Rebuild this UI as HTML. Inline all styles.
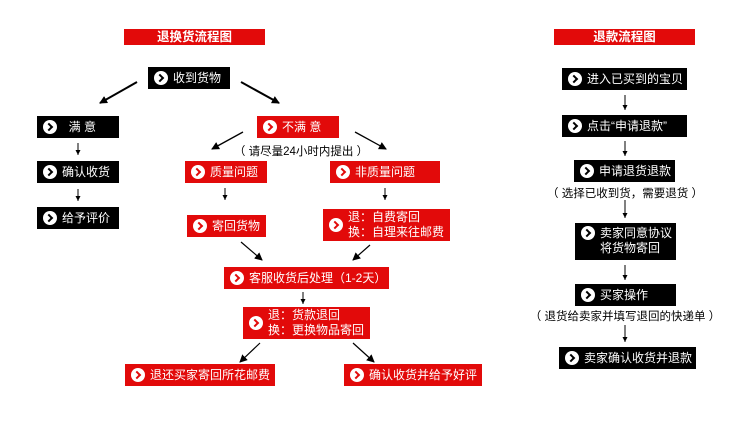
<!DOCTYPE html>
<html><head><meta charset="utf-8">
<style>
body{margin:0;width:750px;height:422px;background:#fff;position:relative;overflow:hidden;font-family:"Liberation Sans","Noto Sans CJK SC",sans-serif;}
.b{position:absolute;box-sizing:border-box;color:#fff;font-size:12px;line-height:15px;display:flex;align-items:center;white-space:nowrap;padding-left:6px;overflow:hidden;}
.k{background:#000;}
.r{background:#e20a0a;}
.i{width:14px;height:14px;border-radius:50%;background:#fff;margin-right:5px;flex:none;position:relative;}
.i:after{content:"";position:absolute;left:3px;top:4px;width:4px;height:4px;border-right:2.5px solid;border-top:2.5px solid;transform:rotate(45deg);}
.k .i:after{border-color:#000}
.r .i:after{border-color:#e20a0a}
.t{position:absolute;background:#e20a0a;color:#fff;font-weight:bold;font-size:12.5px;text-align:center;line-height:16px;height:16px;}
.n{position:absolute;font-size:11.5px;color:#000;white-space:nowrap;transform:translateX(-50%);}
svg{position:absolute;left:0;top:0;}
</style></head><body>
<div class="t" style="left:124px;top:29px;width:141px;">退换货流程图</div>
<div class="t" style="left:554px;top:29px;width:141px;">退款流程图</div>

<div class="b k" style="left:148px;top:67px;width:82px;height:22px;"><span class="i"></span>收到货物</div>
<div class="b k" style="left:37px;top:116px;width:82px;height:22px;"><span class="i"></span>&nbsp;&nbsp;满&nbsp;意</div>
<div class="b r" style="left:257px;top:116px;width:82px;height:22px;"><span class="i"></span>不满&nbsp;意</div>
<div class="n" style="left:301px;top:143px;">（ 请尽量24小时内提出 ）</div>
<div class="b k" style="left:37px;top:161px;width:82px;height:22px;"><span class="i"></span>确认收货</div>
<div class="b r" style="left:185px;top:161px;width:82px;height:22px;"><span class="i"></span>质量问题</div>
<div class="b r" style="left:330px;top:161px;width:110px;height:22px;"><span class="i"></span>非质量问题</div>
<div class="b k" style="left:37px;top:207px;width:82px;height:22px;"><span class="i"></span>给予评价</div>
<div class="b r" style="left:187px;top:215px;width:79px;height:22px;"><span class="i"></span>寄回货物</div>
<div class="b r" style="left:323px;top:209px;width:127px;height:32px;"><span class="i"></span><span>退：自费寄回<br>换：自理来往邮费</span></div>
<div class="b r" style="left:224px;top:267px;width:165px;height:22px;"><span class="i"></span>客服收货后处理（1-2天）</div>
<div class="b r" style="left:243px;top:307px;width:127px;height:32px;"><span class="i"></span><span>退：货款退回<br>换：更换物品寄回</span></div>
<div class="b r" style="left:125px;top:364px;width:150px;height:22px;"><span class="i"></span>退还买家寄回所花邮费</div>
<div class="b r" style="left:344px;top:364px;width:138px;height:22px;"><span class="i"></span>确认收货并给予好评</div>

<div class="b k" style="left:562px;top:68px;width:125px;height:22px;"><span class="i"></span>进入已买到的宝贝</div>
<div class="b k" style="left:562px;top:115px;width:125px;height:22px;"><span class="i"></span>点击“申请退款”</div>
<div class="b k" style="left:574px;top:160px;width:101px;height:22px;"><span class="i"></span>申请退货退款</div>
<div class="n" style="left:625px;top:185px;">（ 选择已收到货，需要退货 ）</div>
<div class="b k" style="left:575px;top:223px;width:101px;height:37px;align-items:flex-start;padding-top:3px;"><span class="i"></span><span>卖家同意协议<br>将货物寄回</span></div>
<div class="b k" style="left:575px;top:284px;width:101px;height:22px;"><span class="i"></span>买家操作</div>
<div class="n" style="left:625px;top:308px;">（ 退货给卖家并填写退回的快递单 ）</div>
<div class="b k" style="left:559px;top:347px;width:137px;height:22px;"><span class="i"></span>卖家确认收货并退款</div>

<svg width="750" height="422">
<defs><marker id="a" markerWidth="8" markerHeight="8" refX="7" refY="4" orient="auto" markerUnits="userSpaceOnUse"><path d="M0,0L8,4L0,8z" fill="#000"/></marker>
<marker id="s" markerWidth="5" markerHeight="5" refX="5" refY="2.5" orient="auto" markerUnits="userSpaceOnUse"><path d="M0,0L5,2.5L0,5z" fill="#000"/></marker></defs>
<g stroke="#000" fill="none">
<line x1="137" y1="82" x2="100" y2="103" stroke-width="2" marker-end="url(#a)"/>
<line x1="241" y1="82" x2="279" y2="103" stroke-width="2" marker-end="url(#a)"/>
<line x1="243" y1="132" x2="212" y2="149" stroke-width="1.3" marker-end="url(#a)"/>
<line x1="355" y1="132" x2="386" y2="149" stroke-width="1.3" marker-end="url(#a)"/>
<g stroke-width="1" marker-end="url(#s)">
<line x1="78" y1="143" x2="78" y2="155"/>
<line x1="78" y1="189" x2="78" y2="201"/>
<line x1="225" y1="188" x2="225" y2="200"/>
<line x1="385" y1="188" x2="385" y2="200"/>
<line x1="303" y1="292" x2="303" y2="304"/>
<line x1="625" y1="95" x2="625" y2="110"/>
<line x1="625" y1="141" x2="625" y2="156"/>
<line x1="625" y1="200" x2="625" y2="218"/>
<line x1="625" y1="265" x2="625" y2="280"/>
<line x1="625" y1="325" x2="625" y2="342"/>
</g>
<g stroke-width="1.2" marker-end="url(#a)">
<line x1="241" y1="242" x2="262" y2="260"/>
<line x1="370" y1="245" x2="353" y2="260"/>
<line x1="260" y1="343" x2="240" y2="362"/>
<line x1="353" y1="343" x2="374" y2="362"/>
</g>
</g>
</svg>
</body></html>
